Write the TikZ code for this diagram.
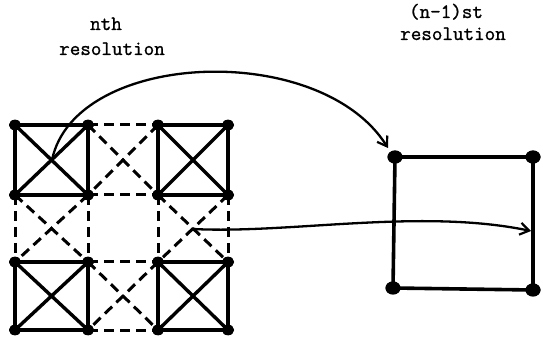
\documentclass[tikz,border=0pt]{standalone}
\usepackage{fontspec}
\newfontfamily\typew[FakeBold=1.2]{Latin Modern Mono}
\usetikzlibrary{arrows.meta,shapes.geometric}
\begin{document}
\begin{tikzpicture}[x=1pt,y=-1pt,
  dot/.style={ellipse,fill=black,inner sep=0pt,minimum width=12pt,minimum height=10.5pt},
  bigdot/.style={ellipse,fill=black,inner sep=0pt,minimum width=15pt,minimum height=13pt},
  solidedge/.style={line width=3.4pt},
  dashedge/.style={line width=3pt,dash pattern=on 10pt off 6pt},
  sqedge/.style={line width=3.6pt},
  conn/.style={line width=2.3pt,-{Straight Barb[length=9pt,width=12pt,line width=2.2pt]}},
  lbl/.style={font=\typew\fontsize{20.5}{22}\selectfont,anchor=base,inner sep=0pt}]
\useasboundingbox (0,0) rectangle (543,344);
% grid nodes
\foreach \i/\x in {0/15,1/88,2/158,3/228}{
  \foreach \j/\y in {0/125,1/195,2/262,3/330}{
    \node[dot] (g\i\j) at (\x,\y) {};
  }
}
% solid corner squares with X
\foreach \a/\b in {0/0,2/0,0/2,2/2}{
  \pgfmathtruncatemacro{\c}{\a+1}
  \pgfmathtruncatemacro{\d}{\b+1}
  \draw[solidedge] (g\a\b.center) -- (g\c\b.center) -- (g\c\d.center) -- (g\a\d.center) -- cycle;
  \draw[solidedge] (g\a\b.center) -- (g\c\d.center);
  \draw[solidedge] (g\c\b.center) -- (g\a\d.center);
}
% dashed edges
\draw[dashedge] (g10.center) -- (g20.center);
\draw[dashedge] (g11.center) -- (g21.center);
\draw[dashedge] (g12.center) -- (g22.center);
\draw[dashedge] (g13.center) -- (g23.center);
\draw[dashedge] (g01.center) -- (g02.center);
\draw[dashedge] (g11.center) -- (g12.center);
\draw[dashedge] (g21.center) -- (g22.center);
\draw[dashedge] (g31.center) -- (g32.center);
% dashed diagonals
\draw[dashedge] (g10.center) -- (g21.center);
\draw[dashedge] (g20.center) -- (g11.center);
\draw[dashedge] (g01.center) -- (g12.center);
\draw[dashedge] (g11.center) -- (g02.center);
\draw[dashedge] (g21.center) -- (g32.center);
\draw[dashedge] (g31.center) -- (g22.center);
\draw[dashedge] (g12.center) -- (g23.center);
\draw[dashedge] (g22.center) -- (g13.center);
% redraw dots on top
\foreach \i in {0,1,2,3}{\foreach \j in {0,1,2,3}{\fill (g\i\j) ellipse (6pt and 5.25pt);}}
% right square
\node[bigdot] (r1) at (395,157) {};
\node[bigdot] (r2) at (533,157) {};
\node[bigdot] (r3) at (393,288) {};
\node[bigdot] (r4) at (533,290) {};
\draw[sqedge] (r1.center) -- (r2.center) -- (r4.center) -- (r3.center) -- cycle;
\foreach \r in {r1,r2,r3,r4}{\fill (\r) ellipse (7.5pt and 6.5pt);}
% connector ends
\coordinate (s1) at (52,160);
\coordinate (e1) at (388,148);
\coordinate (s2) at (193,229);
\coordinate (e2) at (531,231);
\draw[conn] (s1) .. controls (75,50) and (320,40) .. (e1);
\draw[conn] (s2) .. controls (290,234) and (420,208) .. (e2);
% labels
\node[lbl] (t1) at (106,30) {nth};
\node[lbl] (t2) at (112,55) {resolution};
\node[lbl] (t3) at (446,18) {(n-1)st};
\node[lbl] (t4) at (453,40) {resolution};
\end{tikzpicture}
\end{document}
